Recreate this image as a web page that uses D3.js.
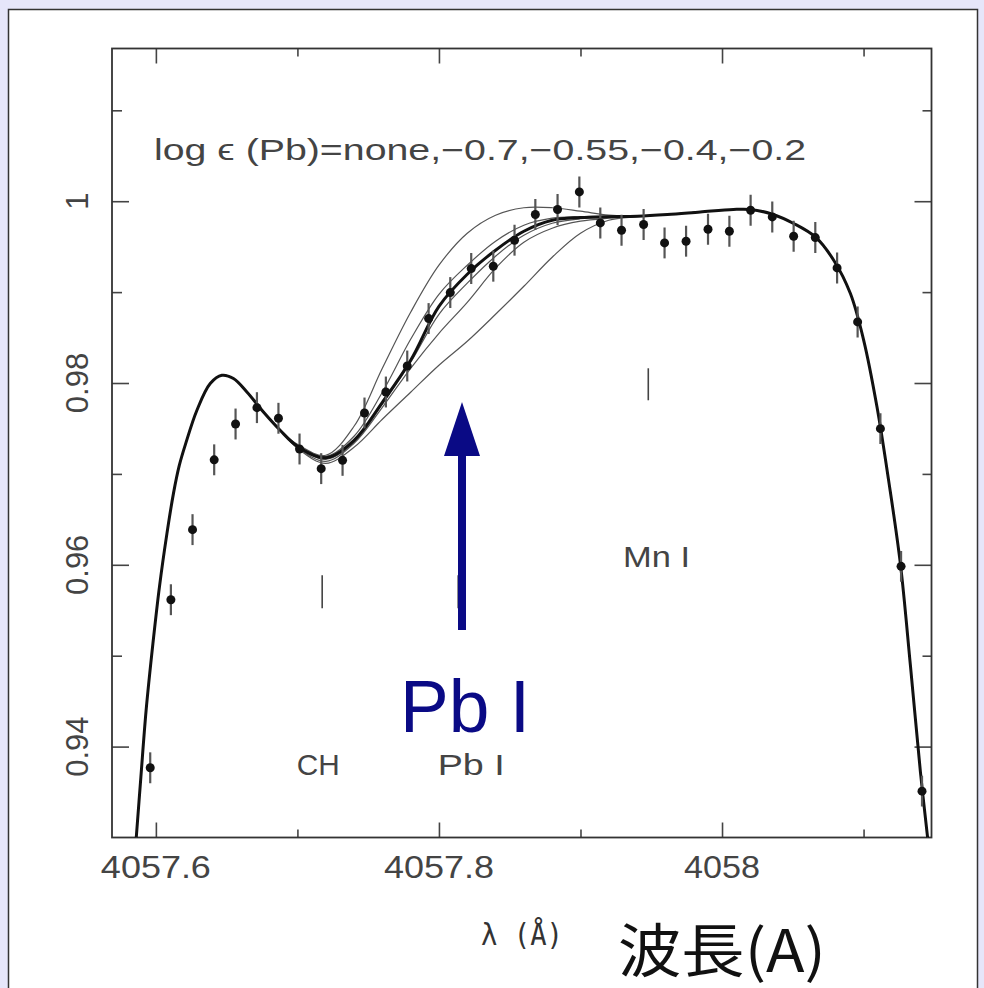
<!doctype html>
<html>

<head>
    <meta charset="utf-8">
    <title>Pb I 4057.8</title>
    <style>
        html, body { margin: 0; padding: 0; background: #e6e6fa; }
        svg { display: block; }
    </style>
</head>

<body>
    <script src="https://d3js.org/d3.v7.min.js"></script>
    <script>
    // observed spectrum: wavelength (A) and normalised flux
    var obsLambda = [4057.5960, 4057.6106, 4057.6259, 4057.6412, 4057.6563, 4057.6714, 4057.6866, 4057.7015,
        4057.7168, 4057.7319, 4057.7474, 4057.7625, 4057.7776, 4057.7927, 4057.8080, 4057.8228, 4057.8384,
        4057.8534, 4057.8681, 4057.8838, 4057.8992, 4057.9140, 4057.9290, 4057.9446, 4057.9594, 4057.9746,
        4057.9901, 4058.0052, 4058.0202, 4058.0355, 4058.0506, 4058.0659, 4058.0813, 4058.0958, 4058.1119,
        4058.1265, 4058.1413];
    var obsFlux = [0.93767, 0.95616, 0.96387, 0.97155, 0.97549, 0.97729, 0.97612, 0.97274,
        0.97058, 0.97149, 0.97670, 0.97901, 0.98187, 0.98709, 0.98995, 0.99259, 0.99285,
        0.99571, 0.99854, 0.99909, 1.00102, 0.99761, 0.99681, 0.99744, 0.99541, 0.99560,
        0.99692, 0.99670, 0.99901, 0.99827, 0.99615, 0.99600, 0.99266, 0.98672, 0.97498,
        0.95983, 0.93510];
    var obsErr = 0.0017;

    // best fit synthetic spectrum (thick line), wings
    var fitLeftLambda = [4057.5861, 4057.5894, 4057.5931, 4057.5979, 4057.6025, 4057.6078, 4057.6124, 4057.6165,
        4057.6210, 4057.6290, 4057.6384, 4057.6466, 4057.6548, 4057.6643, 4057.6760, 4057.6878];
    var fitLeftFlux = [0.92992, 0.93664, 0.94398, 0.95132, 0.95755, 0.96343, 0.96783, 0.97090,
        0.97330, 0.97700, 0.97994, 0.98085, 0.98049, 0.97901, 0.97681, 0.97480];
    var fitRightLambda = [4057.9614, 4057.9847, 4058.0080, 4058.0200, 4058.0356, 4058.0506, 4058.0659, 4058.0789,
        4058.0907, 4058.1001, 4058.1095, 4058.1177, 4058.1260, 4058.1331, 4058.1402, 4058.1453];
    var fitRightFlux = [0.99854, 0.99882, 0.99909, 0.99909, 0.99857, 0.99755, 0.99607, 0.99351,
        0.98984, 0.98470, 0.97736, 0.96929, 0.96013, 0.94893, 0.93716, 0.92992];

    // region where the Pb abundance changes the synthetic spectra
    var midLambda = [4057.70, 4057.72, 4057.74, 4057.76, 4057.78, 4057.80, 4057.82, 4057.84, 4057.86, 4057.88, 4057.90, 4057.92, 4057.94];
    var fitMid = [0.97304, 0.97177, 0.97370, 0.97788, 0.98250, 0.98844, 0.99197, 0.99461, 0.99670, 0.99791, 0.99821, 0.99829, 0.99835];
    var pbNone = [0.97326, 0.97205, 0.97524, 0.98162, 0.98778, 0.99296, 0.99648, 0.99846, 0.99928, 0.99928, 0.99890, 0.99846, 0.99835];
    var pbM070 = [0.97315, 0.97193, 0.97414, 0.97898, 0.98481, 0.98976, 0.99296, 0.99560, 0.99736, 0.99813, 0.99829, 0.99835, 0.99835];
    var pbM055 = [0.97304, 0.97160, 0.97348, 0.97766, 0.98228, 0.98756, 0.99098, 0.99395, 0.99626, 0.99758, 0.99807, 0.99824, 0.99833];
    var pbM040 = [0.97293, 0.97138, 0.97337, 0.97733, 0.98162, 0.98547, 0.98888, 0.99263, 0.99549, 0.99703, 0.99780, 0.99813, 0.99832];
    var pbM020 = [0.97282, 0.97116, 0.97293, 0.97601, 0.97898, 0.98195, 0.98459, 0.98756, 0.99064, 0.99384, 0.99648, 0.99791, 0.99829];

    // line identifications
    var lineNames = ["CH", "Pb I", "Mn I"];
    var lineLambda = [4057.7175, 4057.8136, 4057.9479];
    var markTop = [0.95884, 0.95884, 0.98162];
    var markBottom = [0.95521, 0.95521, 0.97810];
    var nameLambda = [4057.7148, 4057.8228, 4057.9538];
    var nameFlux = [0.93683, 0.93683, 0.95972];

    // ticks
    var xMajor = [4057.6, 4057.8, 4058.0];
    var xMinor = [4057.7, 4057.9, 4058.1];
    var yMajor = [0.94, 0.96, 0.98, 1.0];
    var yMinor = [0.95, 0.97, 0.99, 1.01];
    var xLabels = ["4057.6", "4057.8", "4058"];
    var yLabels = ["0.94", "0.96", "0.98", "1"];

    var W = 984, H = 988;
    var frame = { left: 112, right: 931.5, top: 48.5, bottom: 837.5 };

    var svg = d3.select("body").append("svg")
        .attr("width", W)
        .attr("height", H);

    // white panel on lavender page
    svg.append("rect")
        .attr("x", 8.5).attr("y", 9.5)
        .attr("width", 969).attr("height", 1000)
        .attr("fill", "#ffffff")
        .attr("stroke", "#333")
        .attr("stroke-width", 1.5);

    var x = d3.scaleLinear().domain([4057.569, 4058.148]).range([frame.left, frame.right]);
    var y = d3.scaleLinear().domain([0.93, 1.0168]).range([frame.bottom, frame.top]);

    svg.append("clipPath").attr("id", "clip")
        .append("rect")
        .attr("x", frame.left).attr("y", frame.top)
        .attr("width", frame.right - frame.left).attr("height", frame.bottom - frame.top);

    // axes with inward ticks on all four sides
    function drawAxis(axis, tx, ty, size) {
        var g = svg.append("g")
            .attr("transform", "translate(" + tx + "," + ty + ")")
            .call(axis.tickSize(size).tickFormat(""));
        g.select(".domain").remove();
        g.selectAll("line").attr("stroke", "#444").attr("stroke-width", 1.6);
        return g;
    }
    drawAxis(d3.axisBottom(x).tickValues(xMajor), 0, frame.bottom, -15);
    drawAxis(d3.axisBottom(x).tickValues(xMinor), 0, frame.bottom, -8);
    drawAxis(d3.axisTop(x).tickValues(xMajor), 0, frame.top, -15);
    drawAxis(d3.axisTop(x).tickValues(xMinor), 0, frame.top, -8);
    drawAxis(d3.axisLeft(y).tickValues(yMajor), frame.left, 0, -17);
    drawAxis(d3.axisLeft(y).tickValues(yMinor), frame.left, 0, -10);
    drawAxis(d3.axisRight(y).tickValues(yMajor), frame.right, 0, -17);
    drawAxis(d3.axisRight(y).tickValues(yMinor), frame.right, 0, -9);

    svg.append("rect")
        .attr("x", frame.left).attr("y", frame.top)
        .attr("width", frame.right - frame.left).attr("height", frame.bottom - frame.top)
        .attr("fill", "none")
        .attr("stroke", "#333")
        .attr("stroke-width", 1.8);

    // tick labels
    svg.selectAll(".xlab")
        .data(xMajor)
        .enter().append("text")
        .attr("x", function(d) { return x(d); })
        .attr("y", 878)
        .attr("text-anchor", "middle")
        .attr("font-family", "Liberation Sans, Arial, sans-serif")
        .attr("font-size", 32)
        .attr("fill", "#444")
        .attr("textLength", function(d, i) { return xLabels[i].length === 6 ? 110 : 76; })
        .attr("lengthAdjust", "spacingAndGlyphs")
        .text(function(d, i) { return xLabels[i]; });

    svg.selectAll(".ylab")
        .data(yMajor)
        .enter().append("text")
        .attr("transform", function(d) { return "translate(88," + y(d) + ") rotate(-90)"; })
        .attr("text-anchor", "middle")
        .attr("font-family", "Liberation Sans, Arial, sans-serif")
        .attr("font-size", 31)
        .attr("fill", "#444")
        .text(function(d, i) { return yLabels[i]; });

    svg.append("text")
        .attr("x", 481).attr("y", 945)
        .attr("font-family", "DejaVu Sans Mono, Liberation Mono, monospace")
        .attr("font-size", 30)
        .attr("fill", "#333")
        .attr("textLength", 82)
        .attr("lengthAdjust", "spacingAndGlyphs")
        .text("λ (Å)");

    svg.append("text")
        .attr("x", 154).attr("y", 160)
        .attr("font-family", "Liberation Sans, Arial, sans-serif")
        .attr("font-size", 29)
        .attr("fill", "#444")
        .attr("textLength", 652)
        .attr("lengthAdjust", "spacingAndGlyphs")
        .text("log ϵ (Pb)=none,−0.7,−0.55,−0.4,−0.2");

    // synthetic spectra
    var plot = svg.append("g").attr("clip-path", "url(#clip)");
    var line = d3.line()
        .x(function(d) { return x(d[0]); })
        .y(function(d) { return y(d[1]); })
        .curve(d3.curveCatmullRom.alpha(0.5));

    function spectrum(mid) {
        var pts = [];
        fitLeftLambda.forEach(function(l, i) { pts.push([l, fitLeftFlux[i]]); });
        midLambda.forEach(function(l, i) { pts.push([l, mid[i]]); });
        fitRightLambda.forEach(function(l, i) { pts.push([l, fitRightFlux[i]]); });
        return pts;
    }

    plot.selectAll(".model")
        .data([pbNone, pbM070, pbM055, pbM040, pbM020])
        .enter().append("path")
        .attr("d", function(d) { return line(spectrum(d)); })
        .attr("fill", "none")
        .attr("stroke", "#555")
        .attr("stroke-width", 1.2);

    plot.append("path")
        .attr("d", line(spectrum(fitMid)))
        .attr("fill", "none")
        .attr("stroke", "#111")
        .attr("stroke-width", 3);

    // observed points with error bars
    plot.selectAll(".err")
        .data(obsLambda)
        .enter().append("line")
        .attr("x1", function(d) { return x(d); })
        .attr("x2", function(d) { return x(d); })
        .attr("y1", function(d, i) { return y(obsFlux[i] + obsErr); })
        .attr("y2", function(d, i) { return y(obsFlux[i] - obsErr); })
        .attr("stroke", "#555")
        .attr("stroke-width", 2.2);

    plot.selectAll(".pt")
        .data(obsLambda)
        .enter().append("circle")
        .attr("cx", function(d) { return x(d); })
        .attr("cy", function(d, i) { return y(obsFlux[i]); })
        .attr("r", 4.5)
        .attr("fill", "#111");

    // line identifications
    svg.selectAll(".mark")
        .data(lineLambda)
        .enter().append("line")
        .attr("x1", function(d) { return x(d); })
        .attr("x2", function(d) { return x(d); })
        .attr("y1", function(d, i) { return y(markTop[i]); })
        .attr("y2", function(d, i) { return y(markBottom[i]); })
        .attr("stroke", "#444")
        .attr("stroke-width", 1.6);

    svg.selectAll(".name")
        .data(lineNames)
        .enter().append("text")
        .attr("x", function(d, i) { return x(nameLambda[i]); })
        .attr("y", function(d, i) { return y(nameFlux[i]); })
        .attr("text-anchor", "middle")
        .attr("font-family", "Liberation Sans, Arial, sans-serif")
        .attr("font-size", 29)
        .attr("fill", "#444")
        .attr("textLength", function(d) { return d === "CH" ? 43 : 67; })
        .attr("lengthAdjust", "spacingAndGlyphs")
        .text(function(d) { return d; });

    // added annotation: arrow pointing at the Pb I feature
    var navy = "#0a0a85";
    svg.append("rect")
        .attr("x", 458).attr("y", 450)
        .attr("width", 8).attr("height", 180)
        .attr("fill", navy);
    svg.append("path")
        .attr("d", "M462,402 L444,456 L480,456 Z")
        .attr("fill", navy);
    svg.append("text")
        .attr("x", 400).attr("y", 732)
        .attr("font-family", "Liberation Sans, Arial, sans-serif")
        .attr("font-size", 74)
        .attr("fill", navy)
        .attr("textLength", 130)
        .attr("lengthAdjust", "spacingAndGlyphs")
        .text("Pb I");

    svg.append("text")
        .attr("x", 618).attr("y", 972)
        .attr("font-family", "Noto Sans CJK JP, sans-serif")
        .attr("font-size", 58)
        .attr("fill", "#111")
        .attr("textLength", 208)
        .attr("lengthAdjust", "spacingAndGlyphs")
        .text("波長(A)");
    </script>
</body>

</html>
